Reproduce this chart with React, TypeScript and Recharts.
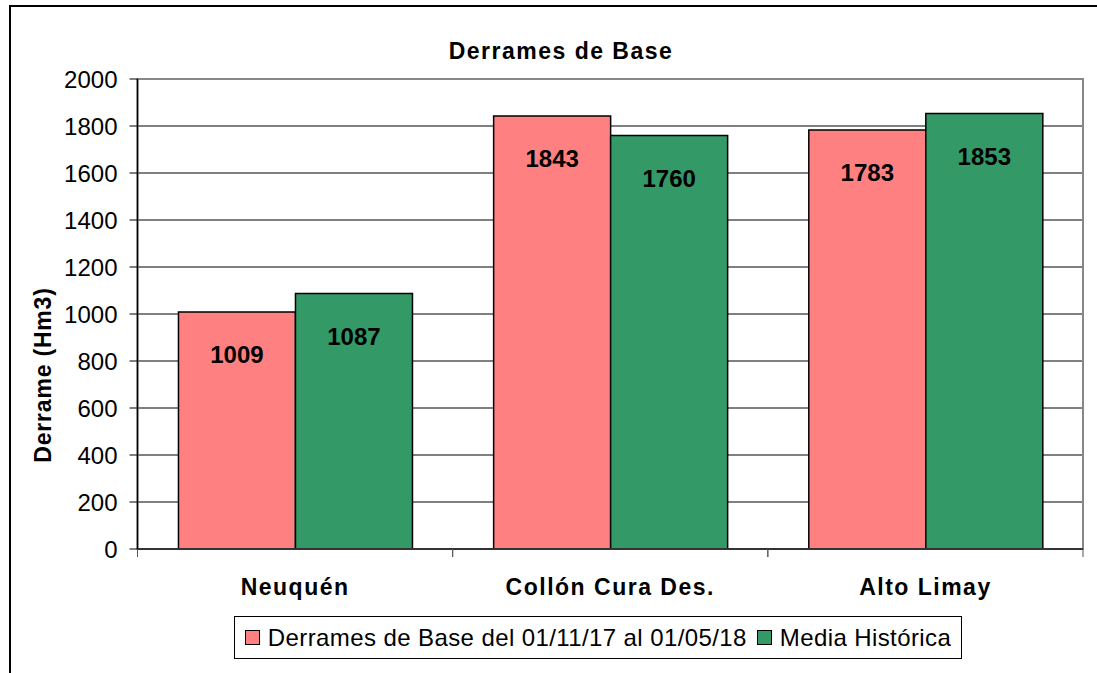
import React from 'react'
import {
  BarChart,
  Bar,
  XAxis,
  YAxis,
  CartesianGrid,
  ReferenceArea,
  LabelList,
} from 'recharts'

const categories = ['Neuquén', 'Collón Cura Des.', 'Alto Limay']
const derramesBase = [1009, 1843, 1783]
const mediaHistorica = [1087, 1760, 1853]
const yTicks = [0, 200, 400, 600, 800, 1000, 1200, 1400, 1600, 1800, 2000]
const seriesNames = ['Derrames de Base del 01/11/17 al 01/05/18', 'Media Histórica']
const seriesColors = ['#FF8080', '#339966']

const FONT = '"Liberation Sans", Arial, sans-serif'

const data = categories.map((name, i) => ({
  name,
  base: derramesBase[i],
  media: mediaHistorica[i],
}))

// etiqueta de categoría + marcas en los bordes de cada grupo
const CategoryTick = (props: any) => {
  const { x, y, payload, width, visibleTicksCount } = props
  const half =
    payload && payload.offset ? payload.offset : width / (visibleTicksCount || 3) / 2
  return (
    <g>
      <line x1={x - half} x2={x - half} y1={y - 8} y2={y} stroke="#555" />
      <line x1={x + half} x2={x + half} y1={y - 8} y2={y} stroke="#555" />
      <text
        x={x}
        y={y + 38}
        textAnchor="middle"
        fontFamily={FONT}
        fontSize={23}
        fontWeight="bold"
        letterSpacing={1.5}
        fill="#000"
      >
        {payload.value}
      </text>
    </g>
  )
}

const ValueLabel = (props: any) => {
  const { x, y, width, value } = props
  return (
    <text
      x={x + width / 2}
      y={y + 43}
      textAnchor="middle"
      dominantBaseline="central"
      fontFamily={FONT}
      fontSize={24}
      fontWeight="bold"
      fill="#000"
    >
      {value}
    </text>
  )
}

const YTitle = (props: any) => {
  const { viewBox } = props
  const cx = viewBox.x + 15
  const cy = viewBox.y + viewBox.height / 2 + 61
  return (
    <text
      x={cx}
      y={cy}
      transform={`rotate(-90, ${cx}, ${cy})`}
      textAnchor="middle"
      dominantBaseline="central"
      fontFamily={FONT}
      fontSize={23}
      fontWeight="bold"
      letterSpacing={0.8}
      fill="#000"
    >
      Derrame (Hm3)
    </text>
  )
}

export default function App() {
  return (
    <div
      style={{
        position: 'absolute',
        left: 0,
        top: 0,
        width: 1097,
        height: 673,
        overflow: 'hidden',
        background: '#fff',
        fontFamily: FONT,
      }}
    >
      {/* marco del gráfico */}
      <div
        style={{
          position: 'absolute',
          left: 9,
          top: 5,
          width: 1088,
          height: 668,
          boxSizing: 'border-box',
          borderTop: '2px solid #000',
          borderLeft: '2px solid #000',
        }}
      />
      <div
        style={{
          position: 'absolute',
          left: 361,
          top: 37,
          width: 400,
          textAlign: 'center',
          fontSize: 23,
          fontWeight: 'bold',
          letterSpacing: 1.5,
          lineHeight: '28px',
        }}
      >
        Derrames de Base
      </div>
      <div style={{ position: 'absolute', left: 0, top: 0 }}>
        <BarChart
          width={1097}
          height={673}
          data={data}
          margin={{ top: 79, right: 14, left: 27.5, bottom: 64 }}
          barGap={0}
          barCategoryGap="13%"
        >
          <CartesianGrid vertical={false} stroke="#000" strokeWidth={1} />
          <ReferenceArea y1={0} y2={2000} fill="none" stroke="#888" strokeWidth={2} ifOverflow="visible" />
          <XAxis
            dataKey="name"
            interval={0}
            height={60}
            tickLine={false}
            tickSize={8}
            tickMargin={0}
            axisLine={{ stroke: '#333', strokeWidth: 2 }}
            tick={<CategoryTick />}
          />
          <YAxis
            width={110}
            domain={[0, 2000]}
            ticks={yTicks}
            interval={0}
            tickSize={8}
            tickMargin={12}
            axisLine={{ stroke: '#000', strokeWidth: 1.5 }}
            tickLine={{ stroke: '#000' }}
            tick={{ fontSize: 24, fill: '#000', fontFamily: FONT }}
            label={<YTitle />}
          />
          <Bar
            dataKey="base"
            name={seriesNames[0]}
            fill={seriesColors[0]}
            stroke="#000"
            strokeWidth={1.5}
            isAnimationActive={false}
          >
            <LabelList dataKey="base" content={<ValueLabel />} />
          </Bar>
          <Bar
            dataKey="media"
            name={seriesNames[1]}
            fill={seriesColors[1]}
            stroke="#000"
            strokeWidth={1.5}
            isAnimationActive={false}
          >
            <LabelList dataKey="media" content={<ValueLabel />} />
          </Bar>
        </BarChart>
      </div>
      {/* leyenda */}
      <div
        style={{
          position: 'absolute',
          left: 234,
          top: 616,
          width: 728,
          height: 43,
          boxSizing: 'border-box',
          border: '1px solid #000',
          display: 'flex',
          alignItems: 'center',
          justifyContent: 'center',
          gap: 10,
          fontSize: 24,
        }}
      >
        {seriesNames.map((name, i) => (
          <div key={name} style={{ display: 'flex', alignItems: 'center', gap: 8 }}>
            <span
              style={{
                width: 13,
                height: 13,
                background: seriesColors[i],
                border: '1.5px solid #000',
                display: 'inline-block',
              }}
            />
            <span style={{ letterSpacing: 0.4 }}>{name}</span>
          </div>
        ))}
      </div>
    </div>
  )
}
